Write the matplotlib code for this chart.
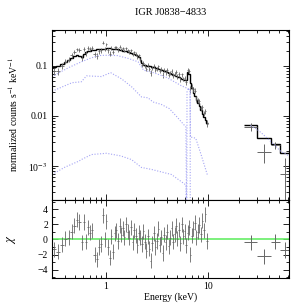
import numpy as np
import matplotlib
matplotlib.use('Agg')
import matplotlib.pyplot as plt
from matplotlib.ticker import MultipleLocator, FixedLocator, NullFormatter

plt.rcParams['font.family'] = ['Liberation Serif', 'DejaVu Serif']
plt.rcParams['mathtext.fontset'] = 'stix'
plt.rcParams['font.size'] = 7

# soft band (XMM) channel edges in keV
soft_edges = [0.30, 0.33, 0.36, 0.39, 0.42, 0.45, 0.48, 0.51, 0.54, 0.57, 0.60, 0.63,
              0.66, 0.69, 0.72, 0.76, 0.80, 0.84, 0.88, 0.92, 0.96, 1.00, 1.04, 1.08,
              1.12, 1.16, 1.20, 1.25, 1.30, 1.35, 1.40, 1.45, 1.50, 1.56, 1.62, 1.68,
              1.74, 1.80, 1.87, 1.94, 2.01, 2.08, 2.15, 2.22, 2.30, 2.38, 2.46, 2.54,
              2.63, 2.72, 2.81, 2.91, 3.01, 3.11, 3.22, 3.33, 3.44, 3.56, 3.68, 3.80,
              3.93, 4.06, 4.20, 4.34, 4.49, 4.64, 4.80, 4.96, 5.13, 5.30, 5.48, 5.66,
              5.85, 6.04, 6.24, 6.44, 6.65, 6.87, 7.10, 7.35, 7.60, 7.86, 8.13, 8.41,
              8.70, 9.00, 9.31, 9.63, 9.96]

# folded model per channel (counts/s/keV)
soft_model = [0.095, 0.100, 0.110, 0.120, 0.130, 0.145, 0.160, 0.165, 0.160, 0.150,
              0.170, 0.185, 0.195, 0.200, 0.205, 0.210, 0.212, 0.215, 0.218, 0.220,
              0.220, 0.222, 0.223, 0.222, 0.220, 0.220, 0.218, 0.215, 0.212, 0.210,
              0.205, 0.200, 0.197, 0.193, 0.190, 0.185, 0.180, 0.175, 0.170, 0.165,
              0.160, 0.150, 0.130, 0.112, 0.105, 0.103, 0.101, 0.100, 0.098, 0.097,
              0.095, 0.093, 0.091, 0.089, 0.087, 0.085, 0.083, 0.081, 0.079, 0.077,
              0.075, 0.073, 0.071, 0.069, 0.067, 0.065, 0.063, 0.061, 0.059, 0.057,
              0.055, 0.053, 0.051, 0.052, 0.075, 0.068, 0.045, 0.036, 0.029, 0.025,
              0.021, 0.018, 0.0155, 0.013, 0.011, 0.0095, 0.0083, 0.0073]

# residuals (chi) per channel
soft_chi = [-1.3, -1.6, -0.7, 0.1, 0.2, 1.0, 1.8, 2.6, 2.3, -0.4,
            2.3, -0.3, 1.6, 0.9, 1.2, -2.0, -2.6, -1.0, -0.6, 3.2,
            0.0, 2.4, -1.0, -2.4, 0.4, -1.6, 0.8, 1.2, -0.2, 1.8,
            0.6, 1.5, 0.3, 2.0, 1.0, 0.2, 1.6, -0.4, 1.2, 0.5,
            -0.8, 0.9, 0.2, -0.6, 1.1, -0.3, -1.5, 0.4, -1.2, -2.8,
            -0.5, 0.8, -1.0, -0.2, 1.4, -0.7, 0.3, -1.8, 0.6, -0.4,
            1.0, -0.9, 0.2, 1.5, -0.3, 0.7, 1.8, 0.1, 1.3, -0.5,
            2.0, 0.4, 1.1, -0.8, 0.9, 1.6, -2.0, 0.5, 1.4, 2.2,
            0.3, 1.0, 1.9, 0.7, 2.5, 1.2, 3.3, -0.2]

# fractional 1-sigma errors per channel
soft_relerr = [0.14, 0.13, 0.13, 0.12, 0.12, 0.11, 0.11, 0.11, 0.12, 0.12,
               0.11, 0.11, 0.10, 0.10, 0.10, 0.10, 0.10, 0.10, 0.10, 0.10,
               0.09, 0.09, 0.09, 0.09, 0.09, 0.09, 0.08, 0.08, 0.08, 0.08,
               0.08, 0.08, 0.08, 0.08, 0.08, 0.08, 0.08, 0.08, 0.08, 0.08,
               0.09, 0.09, 0.09, 0.09, 0.09, 0.09, 0.09, 0.09, 0.09, 0.09,
               0.09, 0.09, 0.09, 0.09, 0.09, 0.09, 0.10, 0.10, 0.10, 0.10,
               0.10, 0.10, 0.10, 0.10, 0.10, 0.10, 0.10, 0.10, 0.11, 0.11,
               0.11, 0.11, 0.11, 0.11, 0.10, 0.10, 0.12, 0.12, 0.12, 0.13,
               0.13, 0.13, 0.14, 0.14, 0.14, 0.15, 0.15, 0.16]

# hard band (ISGRI)
hard_edges = [22.4, 30.4, 41.0, 51.0, 64.0]
hard_model = [0.0066, 0.0037, 0.0027, 0.0018]
hard_err = [0.0012, 0.0008, 0.0004, 0.0008]
hard_chi = [-0.4, -2.2, -0.3, -1.4]

# model components (dotted)
compA_e = [0.30, 0.36, 0.45, 0.58, 0.70, 0.85, 1.0, 1.3, 1.67, 2.08, 2.2, 2.35,
           3.0, 4.0, 5.5, 6.4, 6.7, 6.75, 7.6, 8.5, 9.9]
compA_f = [0.060, 0.075, 0.095, 0.120, 0.140, 0.160, 0.162, 0.160, 0.140, 0.120,
           0.100, 0.082, 0.072, 0.058, 0.040, 0.035, 0.031, 0.0038, 0.0036, 0.0018, 0.00066]
compB_e = [0.30, 0.40, 0.47, 0.58, 0.65, 0.91, 1.12, 1.43, 1.8, 2.24, 2.6, 2.9,
           3.5, 4.2, 5.0, 6.1, 6.2]
compB_f = [0.031, 0.040, 0.046, 0.048, 0.063, 0.061, 0.073, 0.055, 0.038, 0.024,
           0.023, 0.019, 0.017, 0.014, 0.0095, 0.006, 0.0001]
compC_e = [0.30, 0.40, 0.55, 0.58, 0.73, 1.02, 1.4, 1.79, 2.24, 2.8, 4.4, 6.1, 6.2]
compC_f = [0.00068, 0.00095, 0.00126, 0.00135, 0.0017, 0.0018, 0.0016, 0.00135,
           0.00094, 0.00086, 0.00068, 0.00042, 0.00005]
line_e = [6.22, 6.25, 6.45, 6.70, 6.73]
line_f = [0.00005, 0.030, 0.036, 0.030, 0.00005]
compH_e = [26.0, 30.0, 35.0, 41.0, 46.0, 51.0, 62.0]
compH_f = [0.0064, 0.0055, 0.0042, 0.0031, 0.0025, 0.0020, 0.0016]

soft_edges = np.array(soft_edges)
soft_model = np.array(soft_model)
soft_chi = np.array(soft_chi)
soft_err = np.array(soft_relerr) * soft_model
soft_data = soft_model + soft_chi * soft_err
soft_e = np.sqrt(soft_edges[:-1] * soft_edges[1:])
soft_xerr = [soft_e - soft_edges[:-1], soft_edges[1:] - soft_e]

hard_edges = np.array(hard_edges)
hard_model = np.array(hard_model)
hard_err = np.array(hard_err)
hard_chi = np.array(hard_chi)
hard_data = hard_model + hard_chi * hard_err
hard_e = np.sqrt(hard_edges[:-1] * hard_edges[1:])
hard_xerr = [hard_e - hard_edges[:-1], hard_edges[1:] - hard_e]

fig = plt.figure(figsize=(2.91, 3.05), dpi=100)
ax1 = fig.add_axes([0.179, 0.344, 0.814, 0.558])
ax2 = fig.add_axes([0.179, 0.0885, 0.814, 0.2555], sharex=ax1)

dcol = '0.4'
bcol = '#a4a4f4'

# upper panel
ax1.errorbar(soft_e, soft_data, xerr=soft_xerr, yerr=soft_err, fmt='none',
             ecolor=dcol, elinewidth=0.6)
ax1.errorbar(hard_e, hard_data, xerr=hard_xerr, yerr=hard_err, fmt='none',
             ecolor=dcol, elinewidth=0.7)
ax1.stairs(soft_model, soft_edges, color='black', lw=1.0, baseline=None)
ax1.stairs(hard_model, hard_edges, color='black', lw=1.0, baseline=None)
for e, f in [(compA_e, compA_f), (compB_e, compB_f), (compC_e, compC_f),
             (line_e, line_f), (compH_e, compH_f)]:
    ax1.plot(e, f, ls=(0, (1, 1.5)), color=bcol, lw=0.8)

ax1.set_xscale('log')
ax1.set_yscale('log')
ax1.set_xlim(0.3, 62)
ax1.set_ylim(2.1e-4, 0.52)
ax1.yaxis.set_major_locator(FixedLocator([1e-3, 1e-2, 1e-1]))
ax1.set_yticklabels([r'10$^{-3}$', '0.01', '0.1'])
ax1.set_ylabel(r'normalized counts s$^{-1}$ keV$^{-1}$', labelpad=6)
ax1.set_title('IGR J0838\u22124833', fontsize=7.5, pad=11)
plt.setp(ax1.get_xticklabels(), visible=False)

# lower panel
ax2.axhline(0, color='#66ee66', lw=1.2)
ax2.errorbar(soft_e, soft_chi, xerr=soft_xerr, yerr=1.0, fmt='none',
             ecolor=dcol, elinewidth=0.6)
ax2.errorbar(hard_e, hard_chi, xerr=hard_xerr, yerr=1.0, fmt='none',
             ecolor=dcol, elinewidth=0.7)
ax2.set_ylim(-5.1, 5.2)
ax2.yaxis.set_major_locator(MultipleLocator(2))
ax2.yaxis.set_minor_locator(MultipleLocator(1))
ax2.set_xticks([1, 10])
ax2.set_xticklabels(['1', '10'])
ax2.xaxis.set_minor_formatter(NullFormatter())
ax2.set_xlabel('Energy (keV)', labelpad=1)
ax2.set_ylabel(r'$\chi$', rotation=90, labelpad=14, fontsize=9)

for ax in (ax1, ax2):
    ax.tick_params(which='both', direction='in', top=True, right=True, width=0.6, pad=3)
    ax.tick_params(which='major', length=4)
    ax.tick_params(which='minor', length=2)
    for s in ax.spines.values():
        s.set_linewidth(0.8)

fig.savefig('out.png', dpi=100)
